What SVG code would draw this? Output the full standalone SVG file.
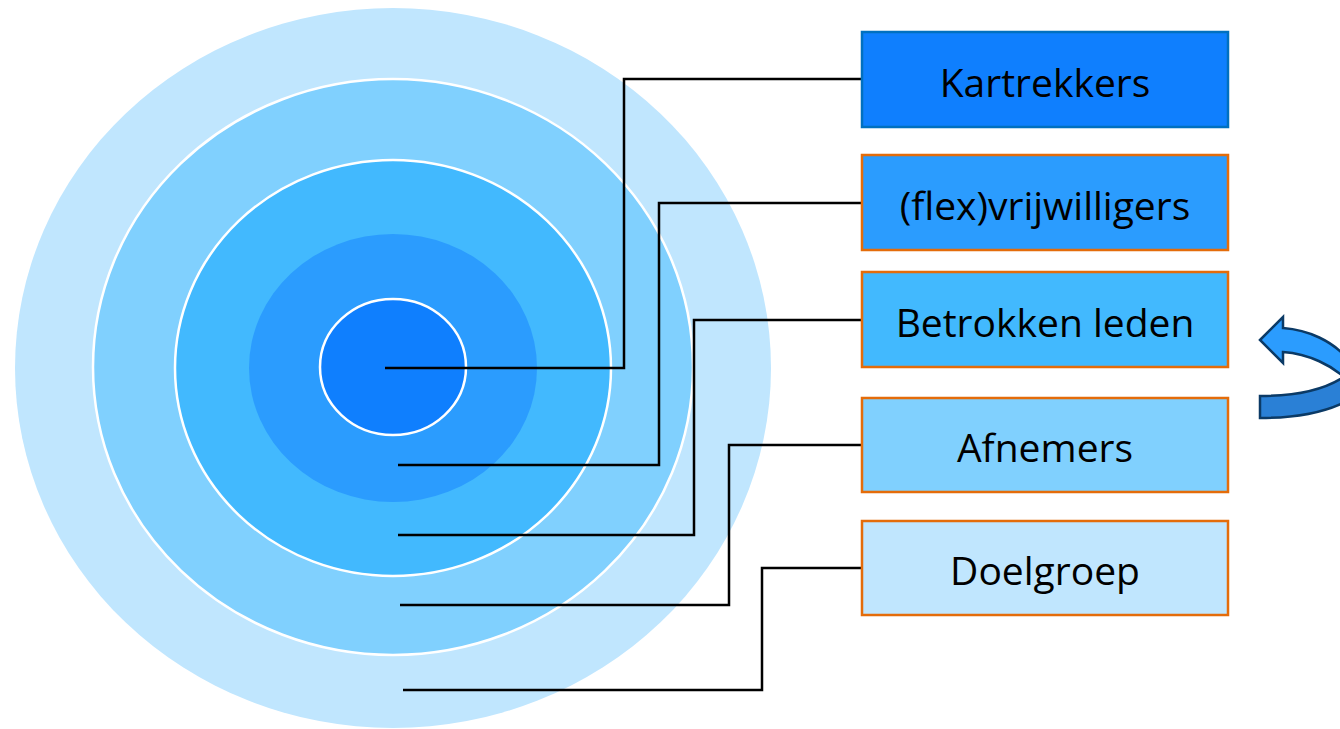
<svg xmlns="http://www.w3.org/2000/svg" width="1340" height="729" viewBox="0 0 1340 729">
<style>
.ring{stroke:#fff;stroke-width:2.5}
.box{stroke:#E46C0A;stroke-width:2.5}
.lbl{font-family:"Open Sans","Noto Sans","Liberation Sans",sans-serif;font-size:39px;fill:#000;text-anchor:middle;dominant-baseline:central}
.conn{fill:none;stroke:#000;stroke-width:2.5}
.arr{stroke:#0B3A66;stroke-width:2.5;stroke-linejoin:miter}
</style>
<rect width="1340" height="729" fill="#fff"/>
<g id="rings">
<ellipse cx="393" cy="368" rx="378" ry="360" fill="#C0E6FE"/>
<ellipse class="ring" cx="393" cy="367" rx="300" ry="288" fill="#80D0FE"/>
<ellipse class="ring" cx="393" cy="368" rx="218" ry="208" fill="#42B9FE"/>
<ellipse cx="393" cy="368" rx="144" ry="134" fill="#2B9CFE"/>
<ellipse class="ring" cx="393" cy="367" rx="73" ry="68" fill="#0F7FFE"/>
</g>
<g id="connectors">
<polyline class="conn" points="385,368 624,368 624,79 862,79"/>
<polyline class="conn" points="398,465 659,465 659,203 862,203"/>
<polyline class="conn" points="398,535 694,535 694,320 862,320"/>
<polyline class="conn" points="400,605 729,605 729,445 862,445"/>
<polyline class="conn" points="403,690 762,690 762,568 862,568"/>
</g>
<g id="node-kartrekkers">
<rect x="862" y="32" width="366" height="95" fill="#0F7FFE" stroke="#0070C0" stroke-width="2.5"/>
<text class="lbl" x="1045" y="81">Kartrekkers</text>
</g>
<g id="node-vrijwilligers">
<rect class="box" x="862" y="155" width="366" height="95" fill="#2B9CFE"/>
<text class="lbl" x="1045" y="204">(flex)vrijwilligers</text>
</g>
<g id="node-betrokken">
<rect class="box" x="862" y="272" width="366" height="95" fill="#42B9FE"/>
<text class="lbl" x="1045" y="321">Betrokken leden</text>
</g>
<g id="node-afnemers">
<rect class="box" x="862" y="398" width="366" height="94" fill="#80D0FE"/>
<text class="lbl" x="1045" y="446">Afnemers</text>
</g>
<g id="node-doelgroep">
<rect class="box" x="862" y="521" width="366" height="94" fill="#C0E6FE"/>
<text class="lbl" x="1045" y="569">Doelgroep</text>
</g>
<g id="curved-arrow">
<path class="arr" fill="#2A80D6" d="M1260,396 C1295,396 1325,390 1345,376 L1345,402 C1325,412 1295,418 1260,418 Z"/>
<path class="arr" fill="#2B9CFE" d="M1260,340 L1283,317 L1283,328 C1310,330 1332,342 1345,356 L1345,378 C1332,366 1310,354 1283,352 L1283,363 Z"/>
</g>
</svg>
